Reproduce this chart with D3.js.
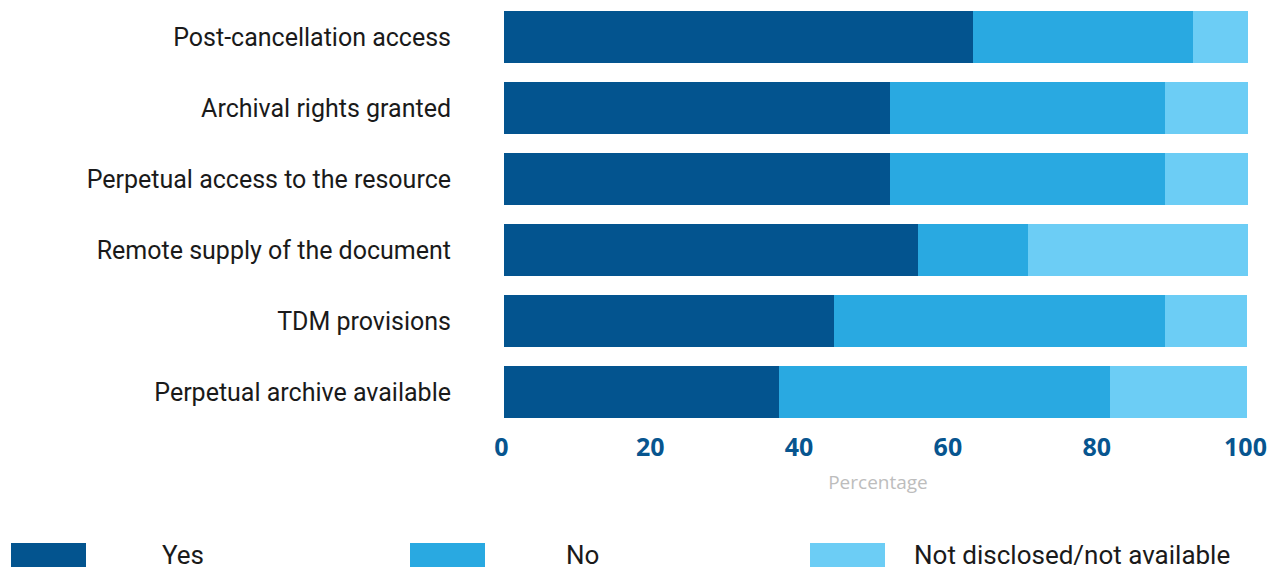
<!DOCTYPE html>
<html>
<head>
<meta charset="utf-8">
<script src="https://cdn.jsdelivr.net/npm/d3@7"></script>
<style>
  html, body { margin: 0; padding: 0; background: #ffffff; }
  svg { display: block; }
</style>
</head>
<body>
<svg id="chart" width="1282" height="572"></svg>
<script>
// Licence terms, share of agreements (%)
const categories = [
  "Post-cancellation access",
  "Archival rights granted",
  "Perpetual access to the resource",
  "Remote supply of the document",
  "TDM provisions",
  "Perpetual archive available"
];
const seriesNames = ["Yes", "No", "Not disclosed/not available"];
const yesValues = [63.0, 51.9, 51.9, 55.6, 44.4, 37.0];
const noValues = [29.6, 37.0, 37.0, 14.8, 44.4, 44.4];
const notDisclosedValues = [7.4, 11.1, 11.1, 29.6, 11.1, 18.5];
const tickValues = [0, 20, 40, 60, 80, 100];
const axisTitle = "Percentage";

const colors = ["#03548f", "#29a9e1", "#6ccdf5"];

// legend layout: swatch left edges and label left edges
const legendLayout = {
  swatchX: [11, 410, 810],
  labelX: [162, 566, 914]
};

const rows = categories.map((c, i) => ({
  category: c,
  "Yes": yesValues[i],
  "No": noValues[i],
  "Not disclosed/not available": notDisclosedValues[i]
}));

const svg = d3.select("#chart");

const x = d3.scaleLinear().domain([0, 100]).range([504, 1248]);
const y = d3.scaleBand()
  .domain(categories)
  .range([1.5, 427.5])
  .paddingInner(0.2676)
  .paddingOuter(0.1338);
const color = d3.scaleOrdinal().domain(seriesNames).range(colors);

const stacked = d3.stack().keys(seriesNames)(rows);

// Stacked bars
svg.append("g")
  .selectAll("g")
  .data(stacked)
  .join("g")
  .attr("fill", d => color(d.key))
  .selectAll("rect")
  .data(d => d)
  .join("rect")
  .attr("x", d => x(d[0]))
  .attr("y", d => y(d.data.category))
  .attr("width", d => x(d[1]) - x(d[0]))
  .attr("height", y.bandwidth())
  .attr("shape-rendering", "crispEdges");

// Category labels
svg.append("g")
  .selectAll("text")
  .data(categories)
  .join("text")
  .attr("x", 451)
  .attr("y", d => y(d) + y.bandwidth() / 2)
  .attr("dy", "0.36em")
  .attr("text-anchor", "end")
  .attr("font-family", "Roboto, sans-serif")
  .attr("font-size", 25)
  .attr("fill", "#1a1a1a")
  .text(d => d);

// Value axis
const axis = svg.append("g")
  .attr("transform", "translate(0,427.5)")
  .call(d3.axisBottom(x).tickValues(tickValues).tickSize(0).tickFormat(d3.format("d")));
axis.select(".domain").remove();
axis.selectAll("text")
  .attr("y", 28.5)
  .attr("dy", 0)
  .attr("dx", -3)
  .attr("font-family", "'Open Sans', sans-serif")
  .attr("font-weight", "bold")
  .attr("font-size", 25)
  .attr("fill", "#07558f");

svg.append("text")
  .attr("x", 878)
  .attr("y", 489)
  .attr("text-anchor", "middle")
  .attr("font-family", "'Open Sans', sans-serif")
  .attr("font-size", 19)
  .attr("fill", "#bdbdbd")
  .text(axisTitle);

// Legend
const legend = svg.append("g")
  .selectAll("g")
  .data(seriesNames)
  .join("g");
legend.append("rect")
  .attr("x", (d, i) => legendLayout.swatchX[i])
  .attr("y", 543)
  .attr("width", 75)
  .attr("height", 24)
  .attr("fill", d => color(d));
legend.append("text")
  .attr("x", (d, i) => legendLayout.labelX[i])
  .attr("y", 563.5)
  .attr("font-family", "Roboto, sans-serif")
  .attr("font-size", 26)
  .attr("fill", "#1a1a1a")
  .text(d => d);
</script>
</body>
</html>
